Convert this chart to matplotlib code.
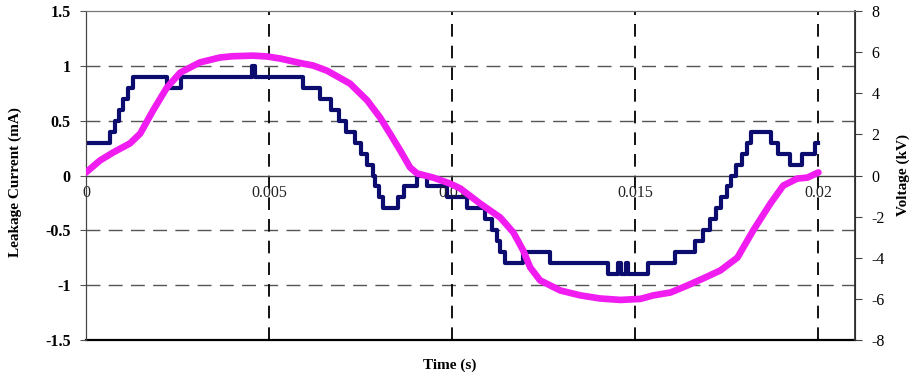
import matplotlib
matplotlib.use("Agg")
import matplotlib.pyplot as plt

# Leakage current (mA), stepped waveform: (time in s, level held from that time)
current_t = [0.0, 0.00066, 0.00078, 0.0009, 0.00102, 0.00114, 0.00128, 0.0022, 0.0026,
             0.00452, 0.00462, 0.00593, 0.0064, 0.0067, 0.0069, 0.0071, 0.00735, 0.0075,
             0.00768, 0.00784, 0.0079, 0.008, 0.0081, 0.00852, 0.00868, 0.00905, 0.0093,
             0.00985, 0.0104, 0.0109, 0.0111, 0.01122, 0.0113, 0.01145, 0.01194, 0.01268,
             0.01425, 0.01453, 0.01461, 0.01475, 0.0148, 0.01535, 0.01609, 0.01664,
             0.01685, 0.01705, 0.0172, 0.01735, 0.0175, 0.0176, 0.01775, 0.0179, 0.01805,
             0.01815, 0.0187, 0.0189, 0.01923, 0.01956, 0.01992, 0.02]
current_mA = [0.3, 0.4, 0.5, 0.6, 0.7, 0.8, 0.9, 0.8, 0.9,
              1.0, 0.9, 0.8, 0.7, 0.6, 0.5, 0.4, 0.3, 0.2,
              0.1, 0.0, -0.1, -0.2, -0.3, -0.2, -0.1, 0.0, -0.1,
              -0.2, -0.3, -0.4, -0.5, -0.6, -0.7, -0.8, -0.7, -0.8,
              -0.9, -0.8, -0.9, -0.8, -0.9, -0.8, -0.7, -0.6,
              -0.5, -0.4, -0.3, -0.2, -0.1, 0.0, 0.1, 0.2, 0.3,
              0.4, 0.3, 0.2, 0.1, 0.2, 0.3, 0.3]

# Applied voltage (kV)
voltage_t = [0.0, 0.00038, 0.00074, 0.0012, 0.00148, 0.00183, 0.00221, 0.00257, 0.00311,
             0.00366, 0.0040, 0.00456, 0.00494, 0.0053, 0.00593, 0.0062, 0.00658, 0.00721,
             0.00768, 0.00803, 0.0083, 0.00858, 0.00885, 0.00904, 0.00948, 0.00994,
             0.01022, 0.01076, 0.01131, 0.01167, 0.01194, 0.01213, 0.0124, 0.01295,
             0.0135, 0.01404, 0.01459, 0.01514, 0.01549, 0.01596, 0.01642, 0.01686,
             0.01732, 0.01779, 0.01822, 0.01869, 0.01904, 0.01942, 0.0197, 0.02]
voltage_kV = [0.15, 0.73, 1.12, 1.56, 2.04, 3.16, 4.28, 5.0, 5.5,
              5.74, 5.8, 5.83, 5.79, 5.69, 5.44, 5.35, 5.1, 4.47,
              3.65, 2.82, 2.04, 1.22, 0.39, 0.1, -0.1, -0.39,
              -0.63, -1.36, -2.04, -2.77, -3.65, -4.47, -5.1, -5.59,
              -5.83, -5.98, -6.05, -6.0, -5.83, -5.69, -5.35, -5.0,
              -4.62, -3.99, -2.67, -1.36, -0.49, -0.15, -0.1, 0.15]

x_ticks = [0, 0.005, 0.01, 0.015, 0.02]
x_ticklabels = ["0", "0.005", "0.01", "0.015", "0.02"]
i_ticks = [-1.5, -1, -0.5, 0, 0.5, 1, 1.5]
i_ticklabels = ["-1.5", "-1", "-0.5", "0", "0.5", "1", "1.5"]
v_ticks = [-8, -6, -4, -2, 0, 2, 4, 6, 8]

navy = "#0c0c6e"
magenta = "#f01cf0"
serif = ["Liberation Serif", "DejaVu Serif"]

plt.rcParams["font.family"] = serif
plt.rcParams["font.weight"] = "bold"

fig = plt.figure(figsize=(9.13, 3.76), dpi=100)
ax = fig.add_axes([0.0942, 0.0957, 0.8423, 0.875])
ax2 = ax.twinx()

ax.set_xlim(0, 0.021)
ax.set_ylim(-1.5, 1.5)
ax2.set_ylim(-8, 8)

# grid: grey dashes across, black dashes down
for y in [1, 0.5, -0.5, -1]:
    ax.axhline(y, color="#555555", lw=1.0, dashes=(10, 6), zorder=1)
for x in x_ticks[1:]:
    ax.axvline(x, color="black", lw=1.3, dashes=(7, 5), zorder=1)
ax.axhline(0, color="#444444", lw=1.0, zorder=1)
ax.axhline(-1.5, color="black", lw=1.6, zorder=1, clip_on=False)

ax.plot(current_t, current_mA, drawstyle="steps-post", color=navy, lw=3.0, zorder=3)
ax2.plot(voltage_t, voltage_kV, color=magenta, lw=4.8, zorder=3,
         solid_capstyle="round", solid_joinstyle="round")

# x labels sit just under the zero line
ax.set_xticks(x_ticks)
ax.set_xticklabels([])
for x, lab in zip(x_ticks, x_ticklabels):
    ax.text(x, -0.09, lab, ha="center", va="top", fontsize=11.5, fontweight="normal",
            color="#222222")
ax.tick_params(axis="x", length=0)

ax.set_yticks(i_ticks)
ax.set_yticklabels(i_ticklabels, fontsize=11.5)
ax.tick_params(axis="y", direction="out", length=4, color="#555555", pad=7)

ax2.set_yticks(v_ticks)
ax2.set_yticklabels([str(v) for v in v_ticks], fontsize=11.5, fontweight="normal")
ax2.tick_params(axis="y", direction="out", length=5, color="#444444", pad=7)

for s in ["bottom"]:
    ax.spines[s].set_visible(False)
    ax2.spines[s].set_visible(False)
ax.spines["top"].set_color("#777777")
ax2.spines["top"].set_color("#777777")
ax.spines["left"].set_color("#444444")
ax2.spines["left"].set_color("#444444")
ax2.spines["right"].set_color("#333333")
ax2.spines["right"].set_linewidth(1.3)

fig.text(0.017, 0.516, "Leakage Current (mA)", rotation=90, ha="center", va="center",
         fontsize=11, fontweight="bold")
fig.text(0.989, 0.535, "Voltage (kV)", rotation=90, ha="center", va="center",
         fontsize=11, fontweight="bold")
fig.text(0.493, 0.028, "Time (s)", ha="center", va="center", fontsize=11,
         fontweight="bold")

fig.savefig("out.png", dpi=100)
